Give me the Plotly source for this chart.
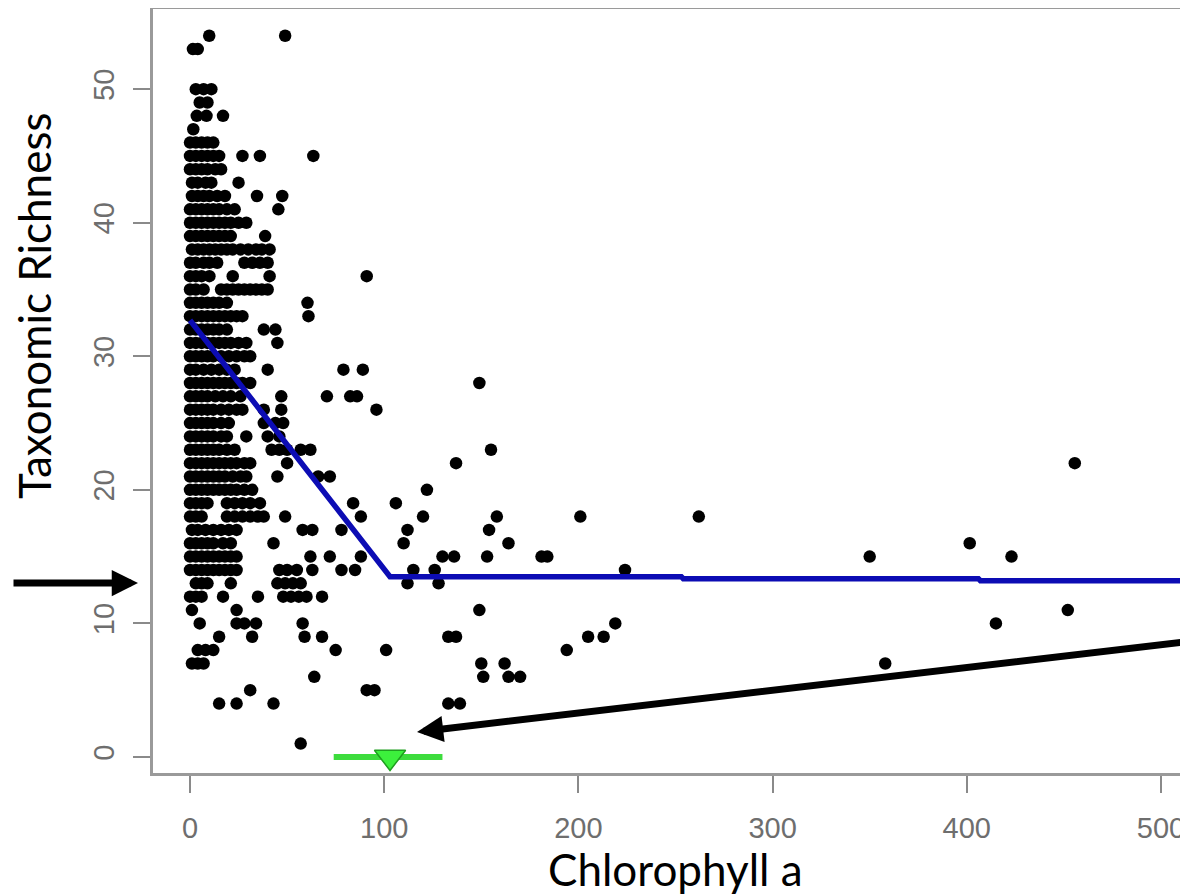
import plotly.graph_objects as go

# ---------------- data ----------------
richness_levels = [54, 53, 50, 49, 48, 47, 46, 45, 44, 43, 42, 41, 40, 39, 38, 37, 36, 35, 34, 33,
                   32, 31, 30, 29, 28, 27, 26, 25, 24, 23, 22, 21, 20, 19, 18, 17, 16, 15, 14, 13,
                   12, 11, 10, 9, 8, 7, 6, 5, 4, 1]
chl_at_level = [
    [9.9, 49],
    [1.5, 4],
    [3, 7, 11],
    [5, 9],
    [3.5, 8.5, 17],
    [1.7],
    [0, 3, 6, 9, 12],
    [0, 3, 6, 9, 12, 15, 27, 36, 63.5],
    [0, 3, 6, 9, 13, 16],
    [1, 4, 8, 11, 25],
    [1, 4, 7, 10, 14, 18, 34.5, 47.5],
    [0, 3, 6, 9, 12, 15, 19, 23, 45.5],
    [0, 3, 6, 9, 12, 15, 18, 21, 25, 29],
    [0, 3, 6, 9, 12, 15, 18, 21, 38.7],
    [1, 4, 7, 10, 13, 16, 19, 22, 26, 30, 34, 37, 41],
    [0, 3, 7, 10, 14, 28, 32, 36, 40],
    [0, 3, 6, 10, 22, 41, 91],
    [0, 3, 7, 16, 19, 22, 25, 28, 31, 34, 37, 40],
    [0, 3, 6, 9, 12, 15, 19, 60.5],
    [0, 3, 6, 9, 12, 15, 18, 21, 24, 27, 61],
    [0, 3, 6, 9, 12, 15, 19, 38, 44],
    [0, 3, 6, 9, 12, 15, 18, 21, 25, 29, 45],
    [0, 3, 6, 9, 12, 16, 20, 24, 28, 31],
    [0, 3, 7, 11, 15, 19, 23, 40, 79, 89],
    [0, 3, 6, 9, 12, 15, 18, 21, 24, 27, 31, 149],
    [0, 3, 6, 9, 13, 17, 21, 26, 47, 70.5, 82.5, 86],
    [0, 3, 6, 9, 12, 16, 20, 24, 27, 38, 47, 96],
    [0, 3, 6, 9, 12, 16, 20, 38, 44, 48],
    [0, 3, 6, 9, 12, 16, 19, 29, 40, 46],
    [0, 3, 6, 9, 12, 15, 19, 23, 42, 46, 50, 57, 62, 155],
    [0, 3, 6, 9, 12, 15, 18, 21, 24, 28, 31, 50, 137, 455.6],
    [0, 3, 6, 9, 12, 15, 18, 22, 26, 29, 45, 66, 72],
    [0, 3, 6, 9, 12, 15, 18, 21, 24, 28, 32, 122],
    [0, 3, 6, 9, 19, 23, 27, 31, 36, 84, 106],
    [0, 3, 6, 19, 23, 27, 31, 35, 38, 49, 88, 120, 158, 201, 262],
    [1, 4, 8, 12, 16, 20, 24, 58, 63, 78, 112, 154],
    [0, 3, 6, 9, 12, 17, 21, 43, 110, 164, 401.5],
    [0, 3, 6, 9, 12, 15, 18, 21, 24, 62, 72, 88, 130, 136, 153, 181, 184, 350, 423],
    [0, 3, 6, 9, 12, 15, 18, 21, 24, 46, 50, 55, 63, 78, 85, 115, 126, 224],
    [3, 6, 9, 21, 45, 49, 53, 57, 112, 128],
    [0, 3, 6, 17, 35, 48, 52, 56, 60, 68],
    [1, 24, 149, 452],
    [5, 24, 28, 34, 58, 219, 415],
    [15, 32, 59, 68, 133, 137, 205, 213],
    [4, 8, 12, 75, 101, 194],
    [1, 4, 7, 150, 162, 358],
    [64, 151, 164, 170],
    [31, 91, 95],
    [15, 24, 43, 133, 139],
    [57],
]

# segmented regression fit
fit_x = [0, 103, 253, 254, 406, 407, 520]
fit_y = [32.7, 13.5, 13.5, 13.35, 13.35, 13.2, 13.2]

# change point and its interval
cp_x = 103
cp_lo = 74
cp_hi = 130

x_ticks = [0, 100, 200, 300, 400, 500]
y_ticks = [0, 10, 20, 30, 40, 50]

# ---------------- build ----------------
pts_x, pts_y = [], []
for lvl, xs in zip(richness_levels, chl_at_level):
    for v in xs:
        pts_x.append(v)
        pts_y.append(lvl)

OFF = 8  # page body margin
W, H = 1188 - OFF, 895 - OFF
L, R, T, B = 145, 0, 1, 122
pw, ph = W - L - R, H - T - B

def px(xp):  # page pixel -> paper
    return (xp - OFF - L) / pw

def py(yp):
    return (H - B - (yp - OFF)) / ph

fig = go.Figure()
fig.add_trace(go.Scatter(x=pts_x, y=pts_y, mode="markers",
                         marker=dict(size=12.5, color="black", line=dict(width=0)),
                         showlegend=False, hoverinfo="skip"))
fig.add_trace(go.Scatter(x=fit_x, y=fit_y, mode="lines",
                         line=dict(color="#0c0cb4", width=5.5),
                         showlegend=False, hoverinfo="skip"))
fig.add_trace(go.Scatter(x=[cp_lo, cp_hi], y=[0, 0], mode="lines",
                         line=dict(color="#3ddc3d", width=6),
                         showlegend=False, hoverinfo="skip"))
fig.add_trace(go.Scatter(x=[cp_x], y=[0], mode="markers",
                         marker=dict(symbol="triangle-down", size=27, color="#3cf03c",
                                     line=dict(color="#1f9e1f", width=1.5)),
                         showlegend=False, hoverinfo="skip"))

tickfont = dict(family="Liberation Sans, Arial, sans-serif", size=29, color="#6e6e6e")
axis_common = dict(showgrid=False, zeroline=False, showline=True, linecolor="#9a9a9a",
                   linewidth=2.5, ticks="outside", ticklen=17, tickwidth=2,
                   tickcolor="#8a8a8a", tickfont=tickfont)

fig.update_layout(
    width=W, height=H,
    margin=dict(l=L, r=R, t=T, b=B, autoexpand=False),
    paper_bgcolor="white", plot_bgcolor="white",
    xaxis=dict(range=[-19.05, 513.9], tickvals=x_ticks, mirror=True,
               ticklabelstandoff=10, **axis_common),
    yaxis=dict(range=[-1.2, 56.0], tickvals=y_ticks, tickangle=-90,
               ticklabelstandoff=8, **axis_common),
)

title_font = dict(family="Lato, Carlito, Calibri, sans-serif", size=44, color="black")
fig.add_annotation(text="Taxonomic Richness", xref="paper", yref="paper",
                   x=px(34), y=py(306), textangle=-90, showarrow=False,
                   xanchor="center", yanchor="middle", font=title_font)
fig.add_annotation(text="Chlorophyll a", xref="paper", yref="paper",
                   x=px(675), y=py(869), showarrow=False,
                   xanchor="center", yanchor="middle", font=title_font)

# pointer arrows
fig.add_annotation(text="", xref="paper", yref="paper", x=px(138), y=py(583),
                   ax=-126, ay=0, showarrow=True, arrowhead=2, arrowsize=0.75,
                   arrowwidth=7, arrowcolor="black")
fig.add_annotation(text="", xref="paper", yref="paper", x=px(417), y=py(732),
                   ax=783, ay=-90.4, showarrow=True, arrowhead=2, arrowsize=0.75,
                   arrowwidth=7, arrowcolor="black")

fig.write_html("out.html")
